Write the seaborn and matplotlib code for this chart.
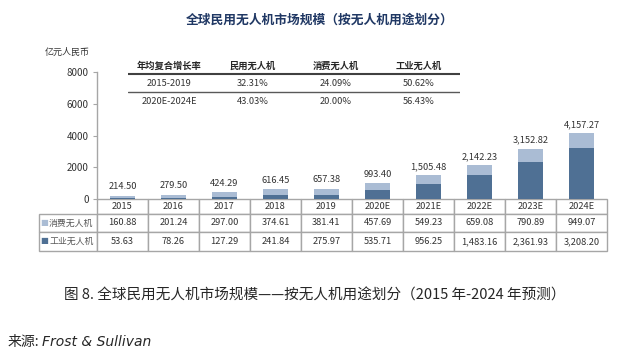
import numpy as np
import pandas as pd
import seaborn as sns
import matplotlib.pyplot as plt

sns.set_theme(style='white')
plt.rcParams['font.family'] = ['Noto Sans CJK SC', 'DejaVu Sans']

# 数据
years = ['2015', '2016', '2017', '2018', '2019', '2020E', '2021E', '2022E', '2023E', '2024E']
consumer = [160.88, 201.24, 297.00, 374.61, 381.41, 457.69, 549.23, 659.08, 790.89, 949.07]
industrial = [53.63, 78.26, 127.29, 241.84, 275.97, 535.71, 956.25, 1483.16, 2361.93, 3208.20]
totals = [214.50, 279.50, 424.29, 616.45, 657.38, 993.40, 1505.48, 2142.23, 3152.82, 4157.27]
row_names = ['消费无人机', '工业无人机']

cagr_header = ['年均复合增长率', '民用无人机', '消费无人机', '工业无人机']
cagr_periods = ['2015-2019', '2020E-2024E']
cagr_civil = ['32.31%', '43.03%']
cagr_consumer = ['24.09%', '20.00%']
cagr_industrial = ['50.62%', '56.43%']

LIGHT = '#AABCD4'
DARK = '#4F7094'
GRID = '#A6A6A6'
TXT = '#333333'
W, H = 640, 359


def fx(px):
    return px / W


def fy(py):
    return 1 - py / H


fig = plt.figure(figsize=(6.4, 3.59), dpi=100)
fig.patch.set_facecolor('white')

# 主图
ax = fig.add_axes([fx(97), fy(199), 510 / W, 127 / H])
df = pd.DataFrame({'year': years, 'total': totals, 'industrial': industrial})
sns.barplot(data=df, x='year', y='total', color=LIGHT, width=0.5, saturation=1,
            errorbar=None, linewidth=0, ax=ax)
sns.barplot(data=df, x='year', y='industrial', color=DARK, width=0.5, saturation=1,
            errorbar=None, linewidth=0, ax=ax)
ax.bar_label(ax.containers[0], labels=[f'{v:,.2f}' for v in totals], padding=3,
             fontsize=6.7, color=TXT)

ax.set_ylim(0, 8000)
ax.set_xlim(-0.5, len(years) - 0.5)
ax.set_yticks([0, 2000, 4000, 6000, 8000])
ax.set_yticklabels(['0', '2000', '4000', '6000', '8000'])
ax.tick_params(axis='y', left=True, length=3, width=0.8, color=GRID, labelsize=7,
               labelcolor=TXT, pad=3)
ax.tick_params(axis='x', bottom=False, labelbottom=False)
ax.set_xlabel('')
ax.set_ylabel('')
for s in ['top', 'right', 'bottom']:
    ax.spines[s].set_visible(False)
ax.spines['left'].set_color(GRID)
ax.spines['left'].set_linewidth(1)

# 底部数据表
fmt = lambda v: f'{v:,.2f}'
cell_text = [[''] + years,
             [''] + [fmt(v) for v in consumer],
             [''] + [fmt(v) for v in industrial]]
tbl = ax.table(cellText=cell_text, colWidths=[58] + [51] * len(years), cellLoc='center',
               bbox=[-58 / 510, -52 / 127, 568 / 510, 52 / 127])
tbl.auto_set_font_size(False)
row_h = [15, 18, 19]
for (r, c), cell in tbl.get_celld().items():
    cell.set_height(row_h[r])
    cell.set_edgecolor(GRID)
    cell.set_linewidth(1)
    cell.get_text().set_fontsize(6.7)
    cell.get_text().set_color(TXT)
    if r == 0 and c == 0:
        cell.visible_edges = 'open'

# 行标签
for i, (name, col) in enumerate(zip(row_names, [LIGHT, DARK])):
    yc = -(15 + 18 * i + 9) / 127
    ax.text(-56.5 / 510, yc, '■', color=col, fontsize=6, ha='left', va='center',
            transform=ax.transAxes, family=['DejaVu Sans'])
    ax.text(-48 / 510, yc, name, color='#595959', fontsize=6.4, ha='left', va='center',
            transform=ax.transAxes)

# 复合增长率表
ax2 = fig.add_axes([fx(128), fy(110), 332 / W, 52 / H])
ax2.axis('off')
ax2.set_xlim(0, 1)
ax2.set_ylim(0, 1)
cagr_rows = [list(r) for r in zip(cagr_periods, cagr_civil, cagr_consumer, cagr_industrial)]
tbl2 = ax2.table(cellText=cagr_rows, colLabels=cagr_header, cellLoc='center', bbox=[0, 0, 1, 1])
tbl2.auto_set_font_size(False)
for (r, c), cell in tbl2.get_celld().items():
    cell.set_height(16 if r == 0 else 18)
    cell.get_text().set_fontsize(6.7)
    cell.get_text().set_color(TXT)
    if r == 0:
        cell.set_facecolor('#F2F2F2')
        cell.set_edgecolor('white')
        cell.set_linewidth(1.5)
        cell.visible_edges = 'LR'
        cell.get_text().set_fontweight('bold')
        cell.get_text().set_color('#262626')
    else:
        cell.visible_edges = 'open'
ax2.axhline(36 / 52, color='#404040', lw=1.5, zorder=5)
ax2.axhline(18 / 52, color='#595959', lw=1, zorder=5)

# 文字
fig.text(0.5, fy(20), '全球民用无人机市场规模（按无人机用途划分）', ha='center', va='center',
         fontsize=9.2, fontweight='bold', color='#203864')
fig.text(fx(45), fy(52), '亿元人民币', ha='left', va='center', fontsize=6.5, color=TXT)
fig.text(fx(315), fy(296), '图 8. 全球民用无人机市场规模——按无人机用途划分（2015 年-2024 年预测）',
         ha='center', va='center', fontsize=10.5, color='#262626')
src = fig.text(fx(8), fy(342), '来源:', ha='left', va='center', fontsize=10, color='#262626')
ax.annotate('Frost & Sullivan', xy=(1, 0.5), xycoords=src, xytext=(2, 0),
            textcoords='offset points', ha='left', va='center', fontsize=10,
            style='italic', color='#262626', family=['DejaVu Sans'], annotation_clip=False)

fig.savefig('out.png', dpi=100)
